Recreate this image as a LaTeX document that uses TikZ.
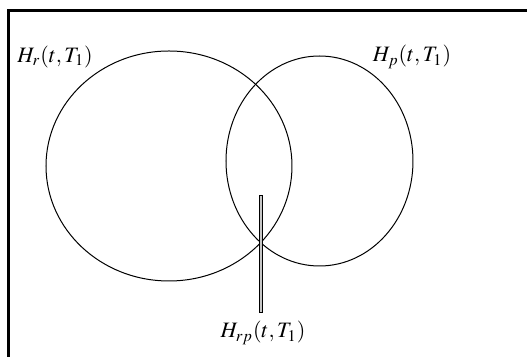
\documentclass[tikz,border=0pt]{standalone}
\usepackage{mathptmx}
\usepackage{tikz}

\begin{document}
\begin{tikzpicture}[x=0.5pt,y=-0.5pt,font=\fontsize{11}{13}\selectfont]
    \useasboundingbox (0,0) rectangle (527,357);
    % frame
    \draw[line width=1.5pt] (527,10.7) -- (8.7,10.7) -- (8.7,357);
    % the two sets
    \draw[line width=0.5pt] (169,166) ellipse [x radius=123, y radius=115];
    \draw[line width=0.5pt] (319.5,161) ellipse [x radius=93.5, y radius=105];
    % pointer to the overlap
    \draw[line width=0.35pt, fill=gray!45] (259.3,195.7) rectangle (262,312.7);
    \node (hr) at (55,57) {$H_r(t,T_1)$};
    \node (hp) at (412,57) {$H_p(t,T_1)$};
    \node (hrp) at (263,333) {$H_{rp}(t,T_1)$};
\end{tikzpicture}
\end{document}
